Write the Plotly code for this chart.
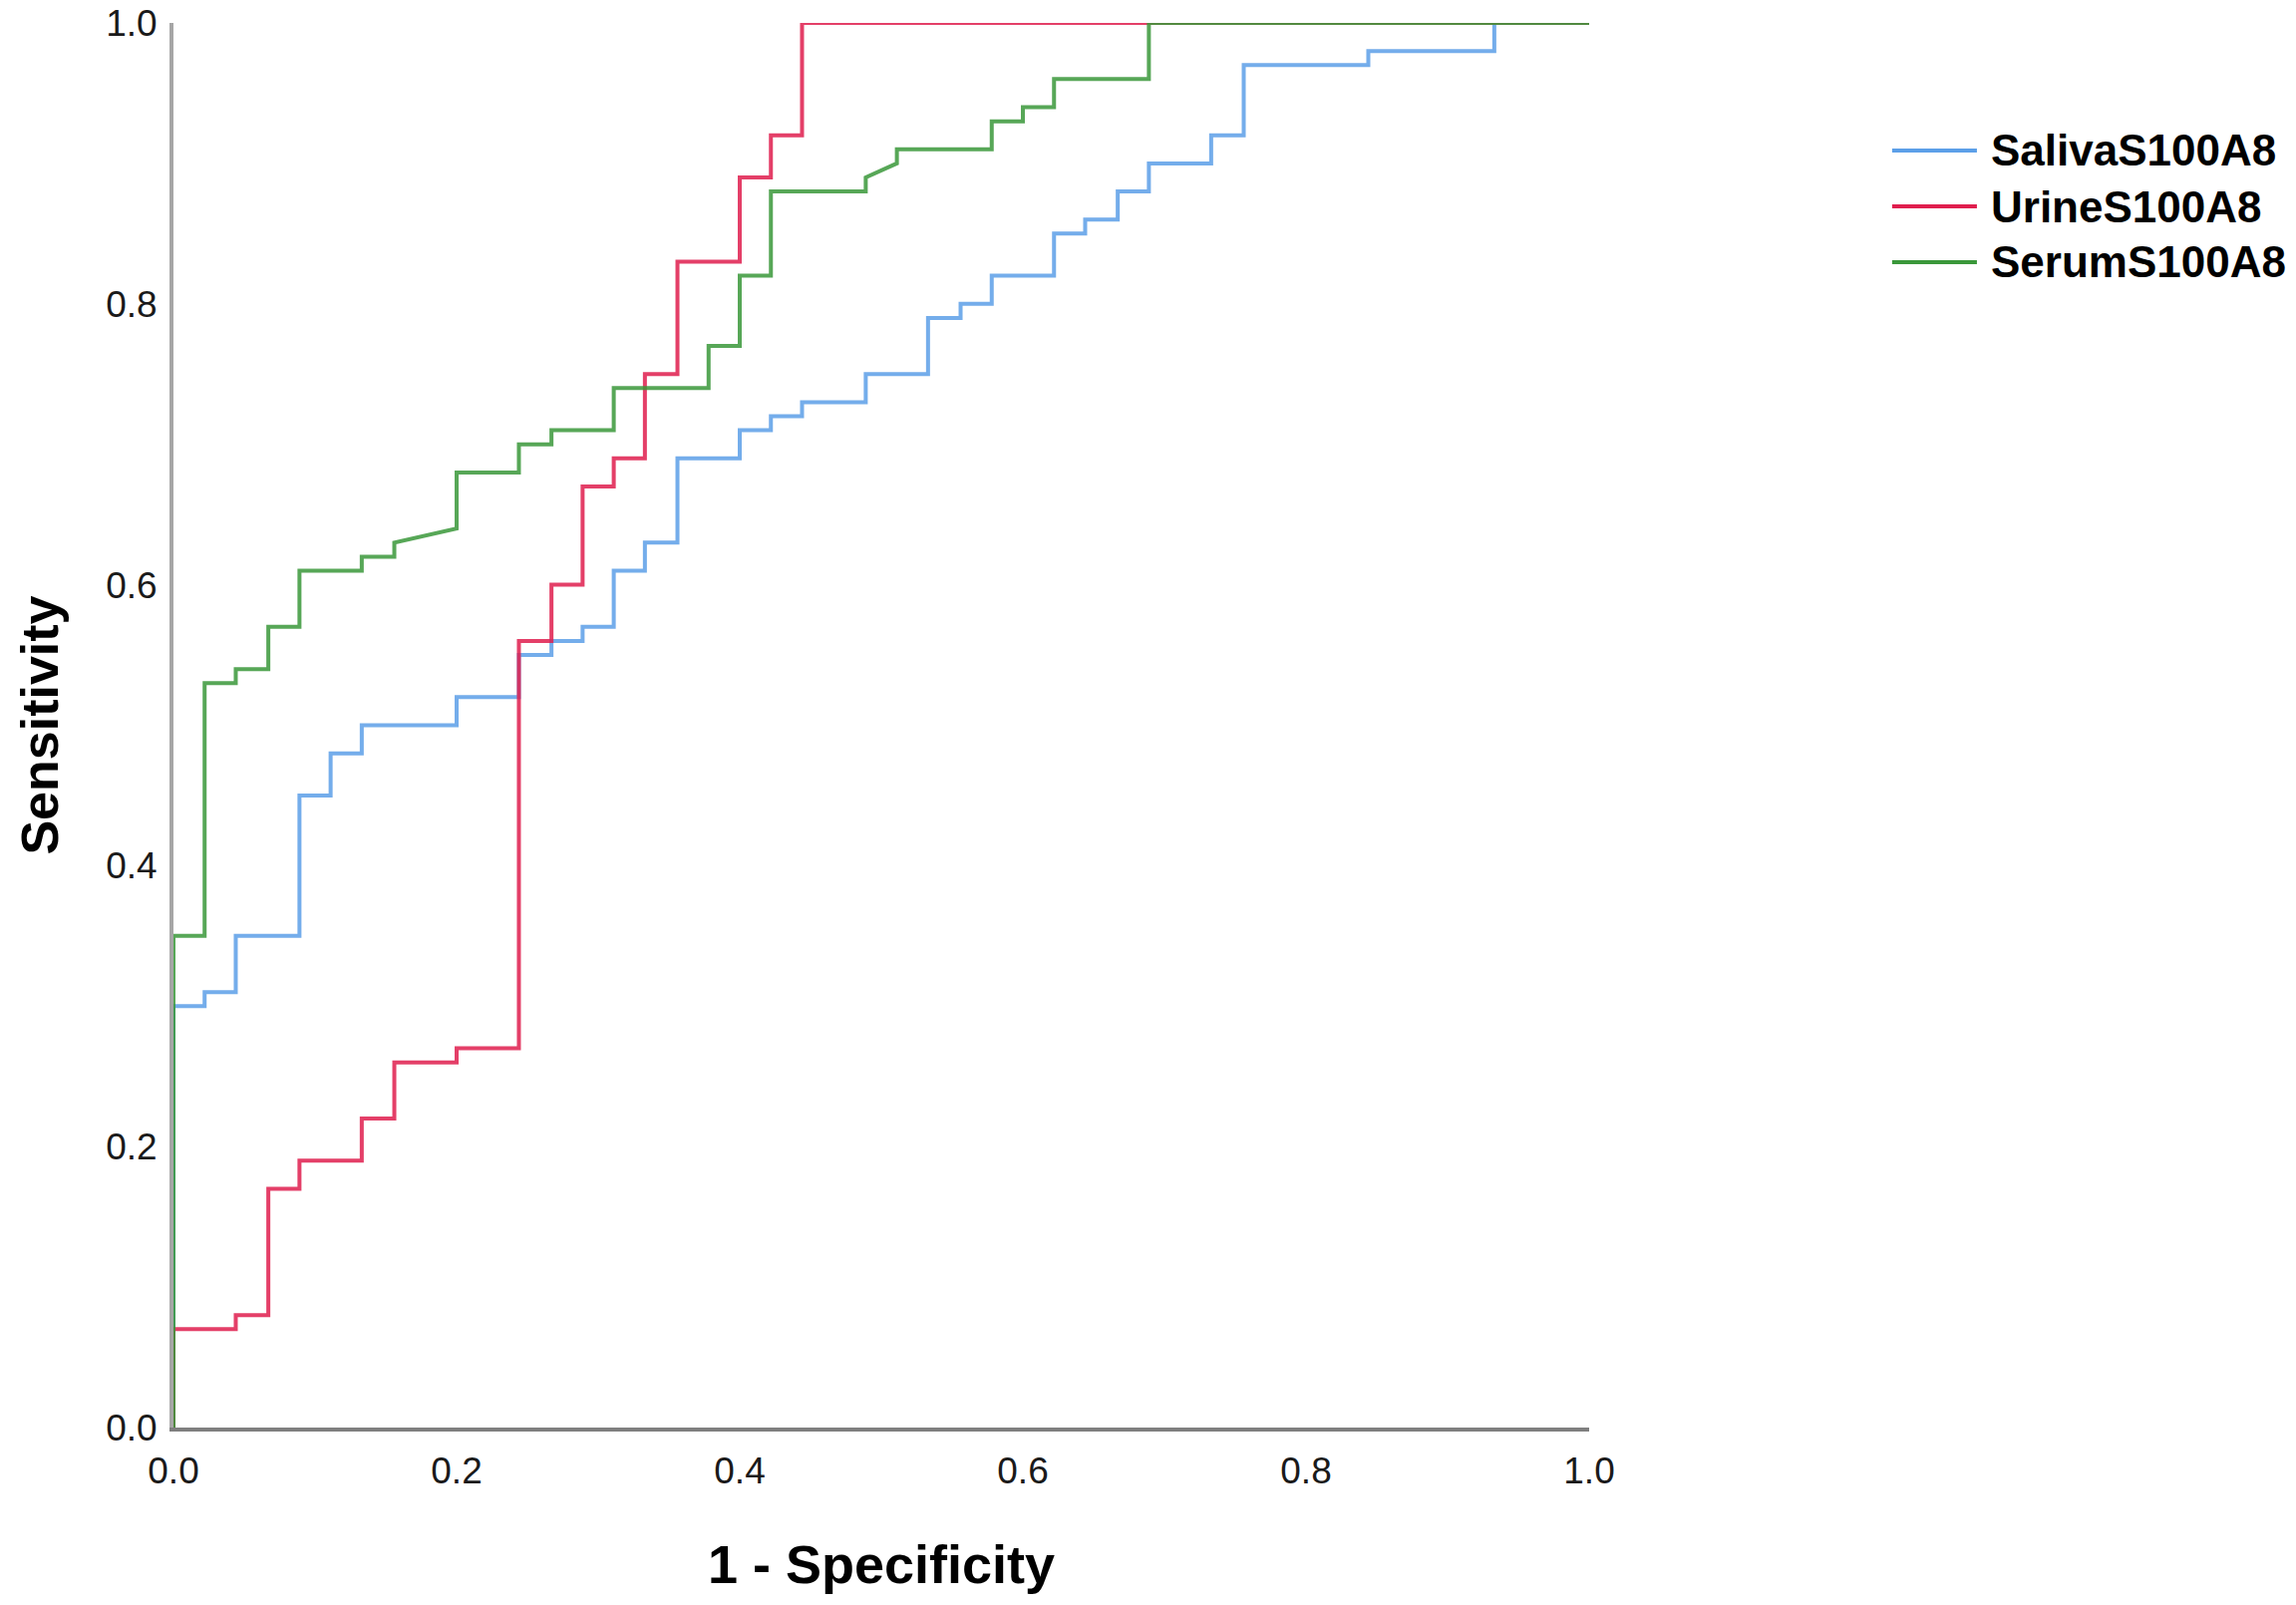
import plotly.graph_objects as go

# ROC vertices (1 - specificity, sensitivity)
saliva_fpr = [0, 0, 0.022, 0.022, 0.044, 0.044, 0.089, 0.089, 0.111, 0.111, 0.133, 0.133,
              0.200, 0.200, 0.244, 0.244, 0.267, 0.267, 0.289, 0.289, 0.311, 0.311, 0.333, 0.333,
              0.356, 0.356, 0.400, 0.400, 0.422, 0.422, 0.444, 0.444, 0.489, 0.489, 0.533, 0.533,
              0.556, 0.556, 0.578, 0.578, 0.622, 0.622, 0.644, 0.644, 0.667, 0.667, 0.689, 0.689,
              0.733, 0.733, 0.756, 0.756, 0.844, 0.844, 0.933, 0.933, 1.0]
saliva_tpr = [0, 0.30, 0.30, 0.31, 0.31, 0.35, 0.35, 0.45, 0.45, 0.48, 0.48, 0.50,
              0.50, 0.52, 0.52, 0.55, 0.55, 0.56, 0.56, 0.57, 0.57, 0.61, 0.61, 0.63,
              0.63, 0.69, 0.69, 0.71, 0.71, 0.72, 0.72, 0.73, 0.73, 0.75, 0.75, 0.79,
              0.79, 0.80, 0.80, 0.82, 0.82, 0.85, 0.85, 0.86, 0.86, 0.88, 0.88, 0.90,
              0.90, 0.92, 0.92, 0.97, 0.97, 0.98, 0.98, 1.0, 1.0]

urine_fpr = [0, 0, 0.044, 0.044, 0.067, 0.067, 0.089, 0.089, 0.133, 0.133, 0.156, 0.156,
             0.200, 0.200, 0.244, 0.244, 0.267, 0.267, 0.289, 0.289, 0.311, 0.311, 0.333, 0.333,
             0.356, 0.356, 0.400, 0.400, 0.422, 0.422, 0.444, 0.444, 1.0]
urine_tpr = [0, 0.07, 0.07, 0.08, 0.08, 0.17, 0.17, 0.19, 0.19, 0.22, 0.22, 0.26,
             0.26, 0.27, 0.27, 0.56, 0.56, 0.60, 0.60, 0.67, 0.67, 0.69, 0.69, 0.75,
             0.75, 0.83, 0.83, 0.89, 0.89, 0.92, 0.92, 1.0, 1.0]

serum_fpr = [0, 0, 0.022, 0.022, 0.044, 0.044, 0.067, 0.067, 0.089, 0.089, 0.133, 0.133,
             0.156, 0.156, 0.200, 0.200, 0.244, 0.244, 0.267, 0.267, 0.311, 0.311, 0.378, 0.378,
             0.400, 0.400, 0.422, 0.422, 0.489, 0.489, 0.511, 0.511, 0.578, 0.578, 0.600, 0.600,
             0.622, 0.622, 0.689, 0.689, 1.0]
serum_tpr = [0, 0.35, 0.35, 0.53, 0.53, 0.54, 0.54, 0.57, 0.57, 0.61, 0.61, 0.62,
             0.62, 0.63, 0.64, 0.68, 0.68, 0.70, 0.70, 0.71, 0.71, 0.74, 0.74, 0.77,
             0.77, 0.82, 0.82, 0.88, 0.88, 0.89, 0.90, 0.91, 0.91, 0.93, 0.93, 0.94,
             0.94, 0.96, 0.96, 1.0, 1.0]

series = [
    ("SalivaS100A8", saliva_fpr, saliva_tpr, "#5c9fe8"),
    ("UrineS100A8", urine_fpr, urine_tpr, "#e01e4e"),
    ("SerumS100A8", serum_fpr, serum_tpr, "#3a983a"),
]
ticks = [0.0, 0.2, 0.4, 0.6, 0.8, 1.0]

fig = go.Figure()
for name, fpr, tpr, color in series:
    fig.add_trace(go.Scatter(x=fpr, y=tpr, mode="lines", name=name,
                             line=dict(color=color, width=4), opacity=0.85,
                             cliponaxis=False, showlegend=False))

axis_common = dict(range=[0, 1], tickvals=ticks, tickformat=".1f", showgrid=False,
                   zeroline=False, showline=True, linewidth=4, ticks="outside",
                   tickcolor="rgba(0,0,0,0)", layer="below traces",
                   ticklabeloverflow="allow",
                   tickfont=dict(family="Liberation Sans, Arial", size=37, color="#1a1a1a"))

# the page body adds an 8px margin, so the figure is 16px smaller than the window
fig.update_layout(
    width=2287, height=1594,
    margin=dict(l=166, r=701, t=15, b=170, autoexpand=False),
    paper_bgcolor="white", plot_bgcolor="white",
    xaxis=dict(axis_common, linecolor="#7f7f7f", ticklen=8),
    yaxis=dict(axis_common, linecolor="#a6a6a6", ticklen=5),
    font=dict(family="Liberation Sans, Arial", color="black"),
)

# axis titles
fig.add_annotation(text="<b>1 - Specificity</b>", xref="paper", yref="paper",
                   x=0.5, y=-0.0972, xanchor="center", yanchor="middle",
                   showarrow=False, font=dict(size=54, color="black"))
fig.add_annotation(text="<b>Sensitivity</b>", xref="paper", yref="paper",
                   x=-0.095, y=0.5, xanchor="center", yanchor="middle", textangle=-90,
                   showarrow=False, font=dict(size=52, color="black"))

# legend, drawn on the right like the original
legend_y = [0.9092, 0.8694, 0.8297]
for (name, _, _, color), ly in zip(series, legend_y):
    fig.add_shape(type="line", xref="paper", yref="paper", x0=1.214, x1=1.2739,
                  y0=ly, y1=ly, line=dict(color=color, width=4))
    fig.add_annotation(text=f"<b>{name}</b>", xref="paper", yref="paper",
                       x=1.2823, y=ly, xanchor="left", yanchor="middle",
                       showarrow=False, font=dict(size=44, color="black"))

fig.write_html("out.html")
